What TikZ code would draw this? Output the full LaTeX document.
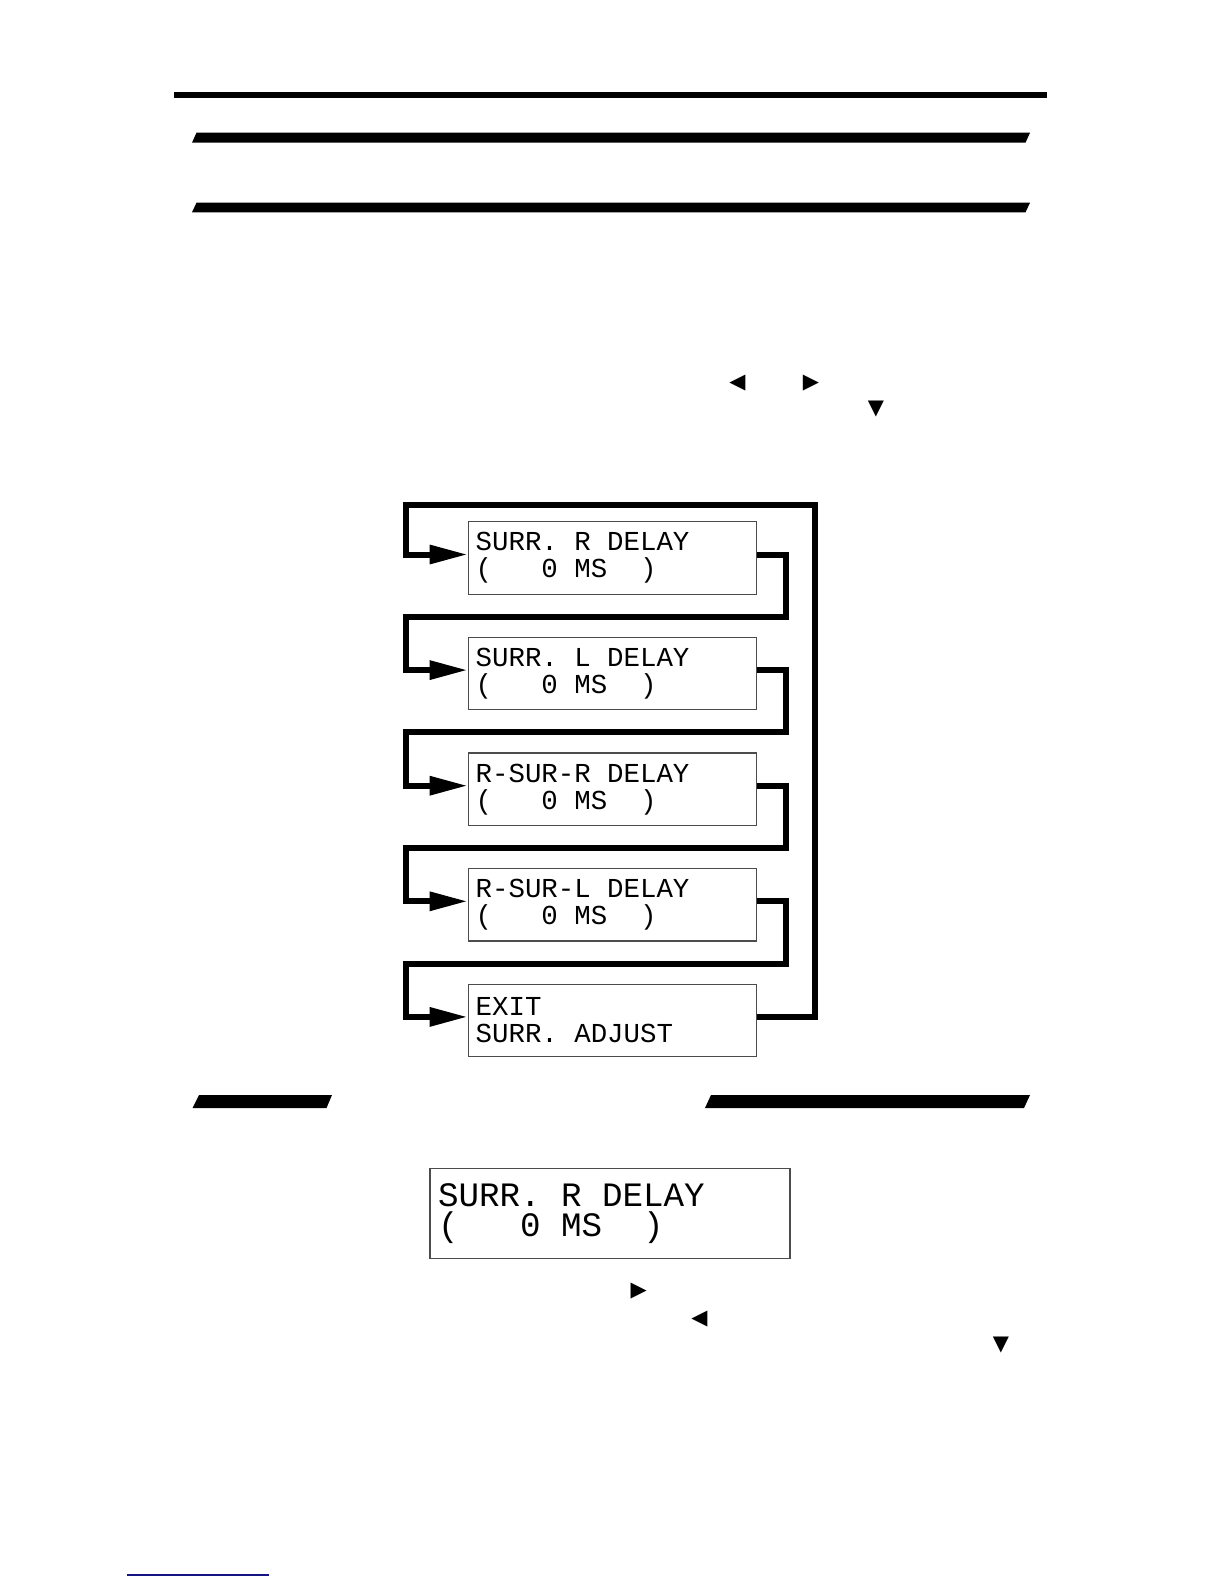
\documentclass[tikz,border=0pt]{standalone}
\usepackage{fontspec}
\usepackage{tikz}
\usetikzlibrary{arrows.meta,positioning}
\newfontfamily\lcdfont{Liberation Mono}
\newfontfamily\glyphfont{DejaVu Sans}
\definecolor{linkblue}{RGB}{20,20,130}
% fixed-width spaces for the display texts
\newcommand\lcdsize[2]{\lcdfont\fontsize{#1}{#2}\selectfont
  \spaceskip=0.6em\relax\xspaceskip=0.6em\relax\frenchspacing}

\begin{document}
\begin{tikzpicture}[x=0.5pt, y=-0.5pt,
    lcd/.style={draw=black!70, line width=0.6pt, inner xsep=3.7pt, text width=136.8pt,
      minimum height=36.2pt, align=flush left, font={\lcdsize{13.7}{13.5}}},
    lcdbig/.style={draw=black!70, line width=0.6pt, inner xsep=4pt, text width=172pt,
      minimum height=45pt, align=flush left, font={\lcdsize{17.1}{15}}},
    link/.style={line width=3pt, line join=miter, -{Triangle[length=19pt,width=9pt]}},
    keyglyph/.style={inner sep=0pt, font=\glyphfont\fontsize{10.5}{12}\selectfont},
    slantbar/.style={fill=black}
  ]
  \useasboundingbox (0,0) rectangle (1224,1584);

  % page rule and heading bars
  \fill (173.5,92.3) rectangle (1047,97.7);
  \fill[slantbar] (196.5,132.7) -- (1030,132.7) -- (1025.5,142.7) -- (192,142.7) -- cycle;
  \fill[slantbar] (196.5,202.7) -- (1030,202.7) -- (1025.5,212.3) -- (192,212.3) -- cycle;

  % key marks in the text
  \node[keyglyph] (keyL) at (737.5,383) {◀};
  \node[keyglyph] (keyR) at (811,383) {▶};
  \node[keyglyph] (keyD) at (876,409.5) {▼};

  % menu chain
  \node[lcd] (surrR) at (612.5,558) {SURR.~R~DELAY\\(~~~0~MS~~)};
  \node[lcd, below=21pt of surrR] (surrL) {SURR.~L~DELAY\\(~~~0~MS~~)};
  \node[lcd, below=21pt of surrL] (rsurR) {R-SUR-R~DELAY\\(~~~0~MS~~)};
  \node[lcd, below=21pt of rsurR] (rsurL) {R-SUR-L~DELAY\\(~~~0~MS~~)};
  \node[lcd, below=21pt of rsurL] (exitbox) {EXIT\\SURR.~ADJUST};

  \coordinate (inR) at (785.5,0);
  \coordinate (outR) at (814.5,505);
  \coordinate (outL) at (405.5,505);
  \coordinate (gap1) at ([yshift=-11pt]surrR.south);
  \coordinate (gap2) at ([yshift=-11pt]surrL.south);
  \coordinate (gap3) at ([yshift=-11pt]rsurR.south);
  \coordinate (gap4) at ([yshift=-11pt]rsurL.south);

  \draw[link] ([yshift=1.75pt]surrR.east) -| (inR |- gap1) -- (outL |- gap1) |- ([yshift=1.75pt]surrL.west);
  \draw[link] ([yshift=1.75pt]surrL.east) -| (inR |- gap2) -- (outL |- gap2) |- ([yshift=1.75pt]rsurR.west);
  \draw[link] ([yshift=1.75pt]rsurR.east) -| (inR |- gap3) -- (outL |- gap3) |- ([yshift=1.75pt]rsurL.west);
  \draw[link] ([yshift=1.75pt]rsurL.east) -| (inR |- gap4) -- (outL |- gap4) |- ([yshift=1.75pt]exitbox.west);
  \draw[link] ([yshift=1.75pt]exitbox.east) -| (outR) -- (outL) |- ([yshift=1.75pt]surrR.west);

  % section bars
  \fill[slantbar] (199,1095) -- (332,1095) -- (326.5,1108) -- (192.5,1108) -- cycle;
  \fill[slantbar] (711,1095) -- (1030,1095) -- (1024,1108) -- (705,1108) -- cycle;

  % display
  \node[lcdbig] (display) at (610,1213.3) {SURR.~R~DELAY\\(~~~0~MS~~)};

  \node[keyglyph] (keyR2) at (638.7,1291.5) {▶};
  \node[keyglyph] (keyL2) at (699.5,1319) {◀};
  \node[keyglyph] (keyD2) at (1001,1345) {▼};

  \draw[linkblue, line width=0.7pt] (127,1575) -- (269,1575);
\end{tikzpicture}
\end{document}
